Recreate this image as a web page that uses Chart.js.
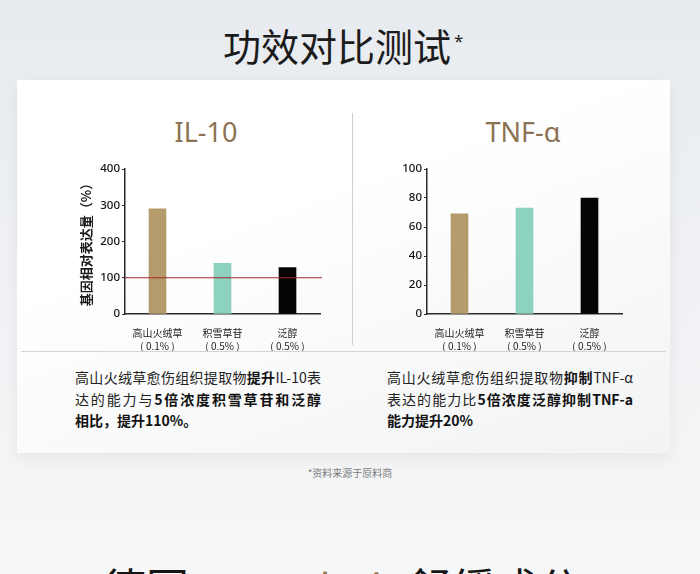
<!DOCTYPE html>
<html lang="zh">
<head>
<meta charset="UTF-8">
<title>功效对比测试</title>
<script src="https://cdn.jsdelivr.net/npm/chart.js"></script>
<style>
  html, body { margin: 0; padding: 0; }
  body {
    width: 700px; height: 574px; overflow: hidden; position: relative;
    font-family: 'Noto Sans CJK SC', 'Noto Sans', sans-serif;
    background: linear-gradient(180deg, #e7ebef 0%, #eef0f3 40%, #f6f7f8 100%);
  }
  .abs { position: absolute; }
  .headline { left: 223px; top: 26px; font-size: 38px; line-height: 38px; color: #1b1b1b; white-space: nowrap; }
  .headline sup { font-size: 17px; vertical-align: top; position: relative; top: -4px; margin-left: 3px; font-family: 'Noto Sans', sans-serif; }
  .card {
    left: 17px; top: 80px; width: 653px; height: 373px;
    background: linear-gradient(160deg, #ffffff 35%, #f2f3f4 100%);
    box-shadow: 0 6px 16px rgba(0, 0, 0, 0.06);
  }
  .panel-title { top: 116px; width: 200px; text-align: center; font-family: 'Noto Sans', sans-serif; font-size: 27px; line-height: 32px; color: #8b7253; }
  .vline { left: 352px; top: 113px; width: 1px; height: 232px; background: #cfcfcf; }
  .hline { left: 21px; top: 351px; width: 645px; height: 1px; background: #d4d4d4; }
  .note { top: 367px; width: 246px; font-size: 14px; line-height: 21.5px; color: #222; }
  .note b { font-weight: 700; color: #111; }
  .j { text-align: justify; text-align-last: justify; white-space: nowrap; }
  .foot { left: 0; width: 700px; top: 465px; text-align: center; font-size: 10px; color: #7a7a7a; }
  .bottom { left: 103px; top: 565px; font-size: 43px; line-height: 43px; color: #151515; white-space: nowrap; }
  .bottom span { color: #9c7b55; font-family: 'Noto Sans', sans-serif; }
</style>
</head>
<body>
  <div class="abs headline">功效对比测试<sup>*</sup></div>
  <div class="abs card"></div>
  <div class="abs panel-title" style="left:106px">IL-10</div>
  <div class="abs panel-title" style="left:423px">TNF-α</div>
  <div class="abs vline"></div>

  <canvas id="il10Chart" class="abs" style="left:60px; top:156px" width="275" height="200"></canvas>
  <canvas id="tnfChart" class="abs" style="left:362px; top:156px" width="275" height="200"></canvas>

  <div class="abs hline"></div>
  <div class="abs note" style="left:75px">
    <div class="j">高山火绒草愈伤组织提取物<b>提升</b>IL-10表</div>
    <div class="j">达的能力与<b>5倍浓度积雪草苷和泛醇</b></div>
    <div><b>相比，提升110%。</b></div>
  </div>
  <div class="abs note" style="left:387px">
    <div class="j">高山火绒草愈伤组织提取物<b>抑制</b>TNF-α</div>
    <div class="j">表达的能力比<b>5倍浓度泛醇抑制TNF-a</b></div>
    <div><b>能力提升20%</b></div>
  </div>
  <div class="abs foot">*资料来源于原料商</div>
  <div class="abs bottom">德国<span>Symcalmin</span>舒缓成分</div>

<script>
  // data
  const categories = [['高山火绒草', '( 0.1% )'], ['积雪草苷', '( 0.5% )'], ['泛醇', '( 0.5% )']];
  const il10Values = [290, 140, 128];
  const tnfValues = [69, 73, 80];
  const il10Ticks = [0, 100, 200, 300, 400];
  const tnfTicks = [0, 20, 40, 60, 80, 100];
  const il10Baseline = 100;
  const barColors = ['#b49b6c', '#8cd2bf', '#050505'];

  // red reference line across the whole plot
  const baselinePlugin = {
    id: 'baseline',
    afterDatasetsDraw(chart, args, opts) {
      if (opts.value == null) return;
      const y = chart.scales.y.getPixelForValue(opts.value);
      const { left, right } = chart.chartArea;
      const ctx = chart.ctx;
      ctx.save();
      ctx.strokeStyle = opts.color;
      ctx.lineWidth = 1.2;
      ctx.beginPath();
      ctx.moveTo(left, y);
      ctx.lineTo(right + 2, y);
      ctx.stroke();
      ctx.restore();
    }
  };

  function makeChart(id, values, ticks, yTitle, baseline) {
    const axisColor = '#2a2a2a';
    return new Chart(document.getElementById(id), {
      type: 'bar',
      data: {
        labels: categories,
        datasets: [{
          data: values,
          backgroundColor: barColors,
          barThickness: 17,
          borderWidth: 0
        }]
      },
      plugins: baseline != null ? [baselinePlugin] : [],
      options: {
        responsive: false,
        animation: false,
        layout: { padding: { top: 13, right: 15, left: 0, bottom: 0 } },
        plugins: {
          legend: { display: false },
          tooltip: { enabled: false },
          baseline: { value: baseline, color: '#a3262a' }
        },
        scales: {
          x: {
            afterFit: s => { s.height = 42; },
            border: { display: true, color: axisColor, width: 1.5 },
            grid: { display: false },
            ticks: {
              padding: 5, color: '#222', maxRotation: 0, autoSkip: false,
              font: { family: 'Noto Sans CJK SC', size: 10, lineHeight: 1.3 }
            }
          },
          y: {
            min: 0,
            max: ticks[ticks.length - 1],
            afterFit: s => { s.width = 65; },
            afterBuildTicks: s => { s.ticks = ticks.map(v => ({ value: v })); },
            border: { display: true, color: axisColor, width: 1.5 },
            grid: { display: true, drawOnChartArea: false, tickLength: 3, color: axisColor },
            ticks: { padding: 2, color: '#111', font: { family: 'Noto Sans', size: 11.5, weight: '500' } },
            title: {
              display: !!yTitle, text: yTitle, color: '#1a1a1a',
              font: { family: 'Noto Sans CJK SC', size: 13, weight: 'bold' },
              padding: { top: 18, bottom: 0 }
            }
          }
        }
      }
    });
  }

  makeChart('il10Chart', il10Values, il10Ticks, '基因相对表达量（%）', il10Baseline);
  makeChart('tnfChart', tnfValues, tnfTicks, '', null);
</script>
</body>
</html>
